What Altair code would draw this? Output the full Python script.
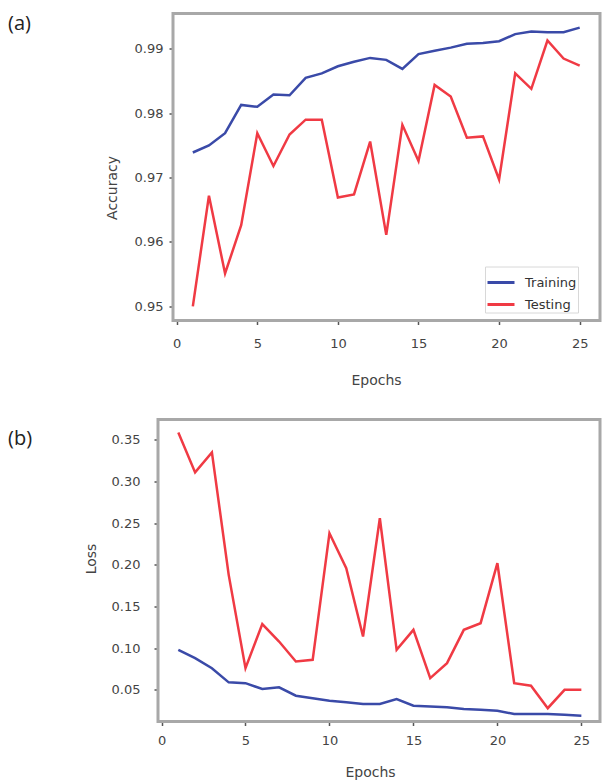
import altair as alt
import pandas as pd

epochs = list(range(1, 26))
series = ["Training", "Testing"]
colors = ["#3a4aa8", "#f03a44"]
x_ticks = [0, 5, 10, 15, 20, 25]
acc_ticks = [0.95, 0.96, 0.97, 0.98, 0.99]
loss_ticks = [0.05, 0.10, 0.15, 0.20, 0.25, 0.30, 0.35]

train_acc = [0.9739, 0.9750, 0.9769, 0.9813, 0.9810, 0.9829, 0.9828, 0.9855, 0.9862,
             0.9873, 0.9880, 0.9886, 0.9883, 0.9869, 0.9892, 0.9897, 0.9902, 0.9908,
             0.9909, 0.9912, 0.9923, 0.9927, 0.9926, 0.9926, 0.9933]
test_acc = [0.9500, 0.9672, 0.9551, 0.9626, 0.9769, 0.9718, 0.9767, 0.9790, 0.9790,
            0.9669, 0.9674, 0.9756, 0.9611, 0.9782, 0.9726, 0.9844, 0.9826, 0.9762,
            0.9764, 0.9697, 0.9862, 0.9838, 0.9913, 0.9885, 0.9874]
train_loss = [0.098, 0.088, 0.076, 0.059, 0.058, 0.051, 0.053, 0.043, 0.040, 0.037,
              0.035, 0.033, 0.033, 0.039, 0.031, 0.030, 0.029, 0.027, 0.026, 0.025,
              0.021, 0.021, 0.021, 0.020, 0.019]
test_loss = [0.359, 0.311, 0.335, 0.188, 0.076, 0.129, 0.108, 0.084, 0.086, 0.238,
             0.196, 0.114, 0.256, 0.098, 0.122, 0.064, 0.082, 0.122, 0.130, 0.202,
             0.058, 0.055, 0.028, 0.050, 0.050]

FONT = "DejaVu Sans"
FRAME = "#a8a8a8"
W = 442  # common panel width


def make_df(train, test):
    return pd.DataFrame({
        "Epoch": epochs + epochs,
        "Value": train + test,
        "Series": [series[0]] * len(train) + [series[1]] * len(test),
    })


def panel(df, label, height, x0, xdomain, ydomain, yticks, ytitle,
          ytitle_xy, xtitle_xy, xlab_pad, ylab_pad, legend_xy, label_y):
    frame = alt.Chart(pd.DataFrame({"f": [0]})).mark_rect(
        fill="white", stroke=FRAME, strokeWidth=3
    ).encode(
        x=alt.value(x0), x2=alt.value(W), y=alt.value(0), y2=alt.value(height)
    )
    lines = alt.Chart(df).mark_line(strokeWidth=2.5).encode(
        x=alt.X("Epoch:Q",
                scale=alt.Scale(domain=xdomain, range=[x0, W], nice=False, zero=False),
                axis=alt.Axis(values=x_ticks, format="d", title="Epochs",
                              titleX=xtitle_xy[0], titleY=xtitle_xy[1],
                              titleBaseline="middle", titleAlign="center",
                              labelPadding=xlab_pad)),
        y=alt.Y("Value:Q",
                scale=alt.Scale(domain=ydomain, nice=False, zero=False),
                axis=alt.Axis(values=yticks, format=".2f", title=ytitle,
                              titleX=ytitle_xy[0], titleY=ytitle_xy[1],
                              titleBaseline="middle", titleAlign="center",
                              labelPadding=ylab_pad, offset=-x0)),
        color=alt.Color("Series:N",
                        scale=alt.Scale(domain=series, range=colors),
                        legend=alt.Legend(
                            title=None, orient="none",
                            legendX=legend_xy[0], legendY=legend_xy[1],
                            symbolType="M-1,0H1", symbolSize=729,
                            symbolStrokeWidth=3, labelFontSize=13,
                            labelFont=FONT, labelColor="#333",
                            labelOffset=9, padding=1, rowPadding=0,
                            strokeColor="#d8d8d8", fillColor="white",
                            labelExpr="datum.label + '     '")),
    )
    text = alt.Chart(pd.DataFrame({"t": [label]})).mark_text(
        align="left", baseline="top", fontSize=20, font="Open Sans", color="#222"
    ).encode(
        x=alt.value(-150),
        y=alt.value(label_y),
        text="t:N",
    )
    return alt.layer(frame, lines, text).properties(width=W, height=height)


acc_panel = panel(make_df(train_acc, test_acc), "(a)", 307, 15,
                  [-0.23, 26.26], [0.9478, 0.9955], acc_ticks, "Accuracy",
                  (-61, 174), (218, 60), 13, 6, (327, 253), 0)
loss_panel = panel(make_df(train_loss, test_loss), "(b)", 302, 0,
                   [-0.21, 26.11], [0.012, 0.3745], loss_ticks, "Loss",
                   (-67, 139), (212, 51), 9, 14, (329, 3), 9)

chart = alt.concat(acc_panel, loss_panel, columns=1, spacing=30).properties(
    padding={"left": 8, "top": 11.5, "right": 0, "bottom": 0},
    background="white",
).configure_view(
    strokeWidth=0
).configure_axis(
    domain=False, grid=False, tickColor="#555", tickSize=4, tickWidth=1.5,
    labelFont=FONT, labelFontSize=13, labelColor="#444",
    titleFont=FONT, titleFontSize=14, titleFontWeight="normal", titleColor="#444",
)

chart.save("out.html", embed_options={"renderer": "svg", "actions": False})
